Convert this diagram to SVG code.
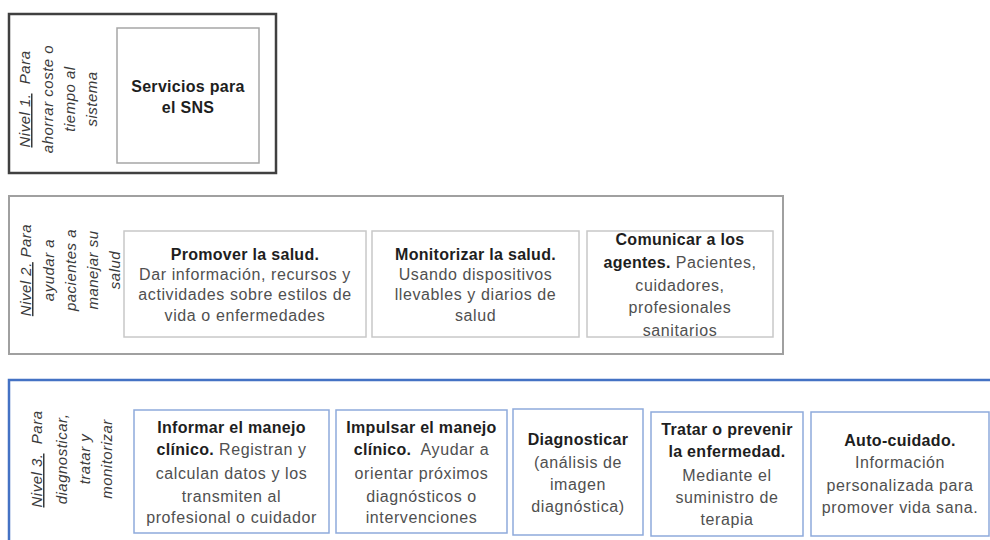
<svg xmlns="http://www.w3.org/2000/svg" width="990" height="540" viewBox="0 0 990 540">
<style>
text{font-family:"Liberation Sans",Arial,sans-serif;font-size:16px;text-anchor:middle}
.b{font-weight:bold;fill:#1e1e1e;letter-spacing:0.3px}
.r{fill:#505050;letter-spacing:0.6px}
.v{font-style:italic;font-size:15px;fill:#3a3a3a;letter-spacing:0.5px}
.u{text-decoration:underline}
.p{white-space:pre}
.l1{fill:#fff;stroke:#404040;stroke-width:2.5}
.n1{fill:#fff;stroke:#a6a6a6;stroke-width:1.5}
.l2{fill:#fff;stroke:#a0a0a0;stroke-width:2}
.n2{fill:#fff;stroke:#c8c8c8;stroke-width:1.5}
.l3{fill:#fff;stroke:#4472c4;stroke-width:2.5}
.n3{fill:#fff;stroke:#8eaadb;stroke-width:1.5}
</style>
<rect width="990" height="540" fill="#fff"/>

<g id="nivel1">
  <rect class="l1" x="9" y="14" width="267" height="159"/>
  <text class="v p" transform="translate(25,99) rotate(-90)" y="5"><tspan class="u">Nivel 1.</tspan>  Para</text>
  <text class="v" transform="translate(48,99) rotate(-90)" y="5">ahorrar coste o</text>
  <text class="v" transform="translate(70,99) rotate(-90)" y="5">tiempo al</text>
  <text class="v" transform="translate(92,99) rotate(-90)" y="5">sistema</text>
  <g id="servicios-sns">
    <rect class="n1" x="117" y="28" width="142" height="135"/>
    <text class="b" x="188" y="92">Servicios para</text>
    <text class="b" x="188" y="113">el SNS</text>
  </g>
</g>

<g id="nivel2">
  <rect class="l2" x="9" y="196" width="774" height="158"/>
  <text class="v" transform="translate(26,270) rotate(-90)" y="5"><tspan class="u">Nivel 2.</tspan> Para</text>
  <text class="v" transform="translate(49,270) rotate(-90)" y="5">ayudar a</text>
  <text class="v" transform="translate(71,270) rotate(-90)" y="5">pacientes a</text>
  <text class="v" transform="translate(93,270) rotate(-90)" y="5">manejar su</text>
  <text class="v" transform="translate(115,270) rotate(-90)" y="5">salud</text>
  <g id="promover">
    <rect class="n2" x="124" y="231" width="242" height="106"/>
    <text class="b" x="245" y="260">Promover la salud.</text>
    <text class="r" x="245" y="280">Dar información, recursos y</text>
    <text class="r" x="245" y="300">actividades sobre estilos de</text>
    <text class="r" x="245" y="321">vida o enfermedades</text>
  </g>
  <g id="monitorizar">
    <rect class="n2" x="372" y="231" width="207" height="106"/>
    <text class="b" x="475.5" y="260">Monitorizar la salud.</text>
    <text class="r" x="475.5" y="280">Usando dispositivos</text>
    <text class="r" x="475.5" y="300">llevables y diarios de</text>
    <text class="r" x="475.5" y="321">salud</text>
  </g>
  <g id="comunicar">
    <rect class="n2" x="587" y="231" width="186" height="106"/>
    <text class="b" x="680" y="245">Comunicar a los</text>
    <text x="680" y="268"><tspan class="b">agentes.</tspan><tspan class="r"> Pacientes,</tspan></text>
    <text class="r" x="680" y="291">cuidadores,</text>
    <text class="r" x="680" y="313">profesionales</text>
    <text class="r" x="680" y="336">sanitarios</text>
  </g>
</g>

<g id="nivel3">
  <rect class="l3" x="9" y="380" width="1000" height="200"/>
  <text class="v p" transform="translate(37,459) rotate(-90)" y="5"><tspan class="u">Nivel 3.</tspan>  Para</text>
  <text class="v" transform="translate(62,459) rotate(-90)" y="5">diagnosticar,</text>
  <text class="v" transform="translate(85,459) rotate(-90)" y="5">tratar y</text>
  <text class="v" transform="translate(107,459) rotate(-90)" y="5">monitorizar</text>
  <g id="informar">
    <rect class="n3" x="134" y="410" width="195" height="123"/>
    <text class="b" x="231.5" y="433">Informar el manejo</text>
    <text x="231.5" y="455"><tspan class="b">clínico.</tspan><tspan class="r"> Registran y</tspan></text>
    <text class="r" x="231.5" y="479">calculan datos y los</text>
    <text class="r" x="231.5" y="502">transmiten al</text>
    <text class="r" x="231.5" y="523">profesional o cuidador</text>
  </g>
  <g id="impulsar">
    <rect class="n3" x="336" y="410" width="171" height="123"/>
    <text class="b" x="421.5" y="433">Impulsar el manejo</text>
    <text class="p" x="421.5" y="455"><tspan class="b">clínico.</tspan><tspan class="r">  Ayudar a</tspan></text>
    <text class="r" x="421.5" y="479">orientar próximos</text>
    <text class="r" x="421.5" y="502">diagnósticos o</text>
    <text class="r" x="421.5" y="523">intervenciones</text>
  </g>
  <g id="diagnosticar">
    <rect class="n3" x="513" y="409" width="130" height="126"/>
    <text class="b" x="578" y="445">Diagnosticar</text>
    <text class="r" x="578" y="468">(análisis de</text>
    <text class="r" x="578" y="490">imagen</text>
    <text class="r" x="578" y="512">diagnóstica)</text>
  </g>
  <g id="tratar">
    <rect class="n3" x="651" y="412" width="152" height="124"/>
    <text class="b" x="727" y="435">Tratar o prevenir</text>
    <text class="b" x="727" y="457">la enfermedad.</text>
    <text class="r" x="727" y="481">Mediante el</text>
    <text class="r" x="727" y="503">suministro de</text>
    <text class="r" x="727" y="525">terapia</text>
  </g>
  <g id="autocuidado">
    <rect class="n3" x="811" y="412" width="178" height="124"/>
    <text class="b" x="900" y="446">Auto-cuidado.</text>
    <text class="r" x="900" y="468">Información</text>
    <text class="r" x="900" y="491">personalizada para</text>
    <text class="r" x="900" y="513">promover vida sana.</text>
  </g>
</g>
</svg>
